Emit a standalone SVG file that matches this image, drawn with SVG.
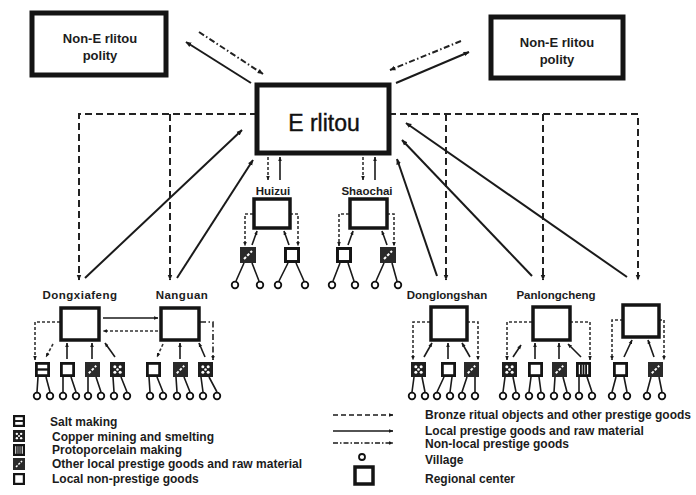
<svg xmlns="http://www.w3.org/2000/svg" width="696" height="495" viewBox="0 0 696 495">
<style>
.bg{fill:#fff}
.big{fill:#fff;stroke:#141414;stroke-width:5}
.rc{fill:#fff;stroke:#141414;stroke-width:3.5}
.t{font-family:"Liberation Sans",Arial,sans-serif;font-weight:bold;fill:#1c1c1c}
.lbl{font-size:11.5px;text-anchor:middle}
.pol{font-size:13px;text-anchor:middle}
.leg{font-size:12px}
.dash{fill:none;stroke:#222;stroke-width:2;stroke-dasharray:7 4}
.sol{fill:none;stroke:#1a1a1a;stroke-width:2}
.dd{fill:none;stroke:#222;stroke-width:2;stroke-dasharray:6 2.5 1.5 2.5}
.sdash{fill:none;stroke:#333;stroke-width:1.6;stroke-dasharray:3 2}
.ssol{fill:none;stroke:#1a1a1a;stroke-width:1.6}
.leg2{fill:none;stroke:#1a1a1a;stroke-width:1.5}
.vil{fill:#fff;stroke:#111;stroke-width:1.8}
</style>
<defs>
<marker id="ah" viewBox="0 0 10 10" refX="9" refY="5" markerUnits="userSpaceOnUse" markerWidth="6" markerHeight="6" orient="auto-start-reverse"><path d="M0,1 L10,5 L0,9 z" fill="#1a1a1a"/></marker>
<marker id="as" viewBox="0 0 10 10" refX="9" refY="5" markerUnits="userSpaceOnUse" markerWidth="4.5" markerHeight="4.5" orient="auto-start-reverse"><path d="M0,1 L10,5 L0,9 z" fill="#1a1a1a"/></marker>
<symbol id="plain" viewBox="0 0 14 14"><rect x="1.3" y="1.3" width="11.4" height="11.4" fill="#fff" stroke="#141414" stroke-width="2.6"/></symbol>
<symbol id="salt" viewBox="0 0 14 14"><rect x="1.3" y="1.3" width="11.4" height="11.4" fill="#fff" stroke="#141414" stroke-width="2.6"/><line x1="1" y1="7" x2="13" y2="7" stroke="#141414" stroke-width="2.2"/></symbol>
<symbol id="copper" viewBox="0 0 14 14"><rect x="0" y="0" width="14" height="14" fill="#1e1e1e"/><g fill="#fff"><circle cx="4.5" cy="4.5" r="1.4"/><circle cx="9.5" cy="4.5" r="1.4"/><circle cx="7" cy="7" r="1.2"/><circle cx="4.5" cy="9.5" r="1.4"/><circle cx="9.5" cy="9.5" r="1.4"/></g></symbol>
<symbol id="proto" viewBox="0 0 14 14"><rect x="1.3" y="1.3" width="11.4" height="11.4" fill="#fff" stroke="#141414" stroke-width="2.6"/><g stroke="#141414" stroke-width="1.7"><line x1="4.6" y1="2" x2="4.6" y2="12"/><line x1="7" y1="2" x2="7" y2="12"/><line x1="9.4" y1="2" x2="9.4" y2="12"/></g></symbol>
<symbol id="other" viewBox="0 0 14 14"><rect x="0" y="0" width="14" height="14" fill="#2a2a2a"/><line x1="3.5" y1="10.5" x2="10.5" y2="3.5" stroke="#fff" stroke-width="1.8" stroke-dasharray="2.5 1.5"/></symbol>
</defs>
<rect class="bg" x="0" y="0" width="696" height="495"/>

<g id="connectors">
  <line class="dd" x1="199" y1="32" x2="263" y2="74" marker-end="url(#ah)"/>
  <line class="sol" x1="251" y1="83" x2="186" y2="42" marker-end="url(#ah)"/>
  <line class="dd" x1="461" y1="41" x2="390" y2="70" marker-end="url(#ah)"/>
  <line class="sol" x1="396" y1="83" x2="469" y2="52" marker-end="url(#ah)"/>
  <polyline class="dash" points="257,114 79,114 79,280" marker-end="url(#ah)"/>
  <line class="dash" x1="170" y1="114" x2="170" y2="280" marker-end="url(#ah)"/>
  <polyline class="dash" points="389,114 638,114 638,280" marker-end="url(#ah)"/>
  <line class="dash" x1="446" y1="114" x2="446" y2="280" marker-end="url(#ah)"/>
  <line class="dash" x1="543" y1="114" x2="543" y2="280" marker-end="url(#ah)"/>
  <line class="sol" x1="85" y1="278" x2="242" y2="130" marker-end="url(#ah)"/>
  <line class="sol" x1="177" y1="278" x2="253" y2="160" marker-end="url(#ah)"/>
  <line class="sol" x1="437" y1="276" x2="397" y2="159" marker-end="url(#ah)"/>
  <line class="sol" x1="532" y1="276" x2="402" y2="140" marker-end="url(#ah)"/>
  <line class="sol" x1="627" y1="277" x2="406" y2="123" marker-end="url(#ah)"/>
  <line class="sdash" x1="268" y1="157" x2="268" y2="180" marker-end="url(#as)"/>
  <line class="ssol" x1="280" y1="180" x2="280" y2="157" marker-end="url(#as)"/>
  <line class="sdash" x1="363" y1="157" x2="363" y2="180" marker-end="url(#as)"/>
  <line class="ssol" x1="375" y1="180" x2="375" y2="157" marker-end="url(#as)"/>
  <polyline class="sdash" points="253,214 245,214 245,246" marker-end="url(#as)"/>
  <line class="ssol" x1="252" y1="245" x2="257" y2="231" marker-end="url(#as)"/>
  <line class="ssol" x1="289" y1="245" x2="284" y2="231" marker-end="url(#as)"/>
  <polyline class="sdash" points="290,214 298,214 298,246" marker-end="url(#as)"/>
  <polyline class="sdash" points="349,214 339,214 339,246" marker-end="url(#as)"/>
  <line class="ssol" x1="348" y1="245" x2="353" y2="231" marker-end="url(#as)"/>
  <line class="ssol" x1="387" y1="245" x2="382" y2="231" marker-end="url(#as)"/>
  <polyline class="sdash" points="387,214 394,214 394,246" marker-end="url(#as)"/>
  <line class="ssol" x1="103" y1="318" x2="158" y2="318" marker-end="url(#as)"/>
  <line class="sdash" x1="158" y1="331" x2="103" y2="331" marker-end="url(#as)"/>
  <polyline class="sdash" points="60,322 35,322 35,360" marker-end="url(#as)"/>
  <line class="sdash" x1="53" y1="344" x2="46" y2="357" marker-end="url(#as)"/>
  <line class="ssol" x1="67" y1="359" x2="67" y2="343" marker-end="url(#as)"/>
  <line class="ssol" x1="92" y1="359" x2="92" y2="343" marker-end="url(#as)"/>
  <line class="ssol" x1="115" y1="357" x2="105" y2="343" marker-end="url(#as)"/>
  <line class="sdash" x1="163" y1="344" x2="157" y2="357" marker-end="url(#as)"/>
  <line class="ssol" x1="180" y1="359" x2="180" y2="343" marker-end="url(#as)"/>
  <line class="ssol" x1="205" y1="357" x2="199" y2="343" marker-end="url(#as)"/>
  <polyline class="dd" style="stroke-width:1.6" points="200,322 213,322 213,360" marker-end="url(#as)"/>
  <polyline class="sdash" points="430,322 413,322 413,360" marker-end="url(#as)"/>
  <line class="ssol" x1="424" y1="357" x2="432" y2="343" marker-end="url(#as)"/>
  <line class="ssol" x1="448" y1="359" x2="448" y2="343" marker-end="url(#as)"/>
  <line class="ssol" x1="470" y1="357" x2="462" y2="343" marker-end="url(#as)"/>
  <polyline class="sdash" points="467,322 478,322 478,360" marker-end="url(#as)"/>
  <polyline class="sdash" points="532,322 507,322 507,360" marker-end="url(#as)"/>
  <line class="ssol" x1="513" y1="357" x2="521" y2="345" marker-end="url(#as)"/>
  <line class="ssol" x1="535" y1="359" x2="535" y2="343" marker-end="url(#as)"/>
  <line class="ssol" x1="559" y1="359" x2="559" y2="343" marker-end="url(#as)"/>
  <line class="ssol" x1="581" y1="357" x2="568" y2="344" marker-end="url(#as)"/>
  <polyline class="sdash" points="570,322 590,322 590,360" marker-end="url(#as)"/>
  <polyline class="sdash" points="623,320 612,320 612,360" marker-end="url(#as)"/>
  <line class="ssol" x1="624" y1="357" x2="632" y2="340" marker-end="url(#as)"/>
  <line class="ssol" x1="654" y1="357" x2="648" y2="340" marker-end="url(#as)"/>
  <polyline class="sdash" points="659,320 664,320 664,360" marker-end="url(#as)"/>
</g>

<g id="polity-left">
  <rect class="big" x="32" y="13" width="134" height="62"/>
  <text class="t pol" x="100" y="43">Non-E rlitou</text>
  <text class="t pol" x="100" y="60">polity</text>
</g>
<g id="polity-right">
  <rect class="big" x="491" y="17" width="132" height="61"/>
  <text class="t pol" x="557" y="47">Non-E rlitou</text>
  <text class="t pol" x="557" y="64">polity</text>
</g>
<g id="erlitou">
  <rect class="big" x="257" y="85" width="132" height="68"/>
  <text x="324" y="131" font-family="Liberation Sans, Arial, sans-serif" font-size="23" text-anchor="middle" fill="#111" stroke="#111" stroke-width="0.4">E rlitou</text>
</g>

<g id="huizui">
  <text class="t lbl" x="273" y="195">Huizui</text>
  <rect class="rc" x="254" y="199" width="36" height="29"/>
  <use href="#other" x="240" y="247" width="16" height="16"/>
  <use href="#plain" x="284" y="247" width="16" height="16"/>
  <g class="ssol"><path d="M244,263 L236,281 M252,263 L259,281 M288,263 L279,281 M296,263 L304,281"/></g>
  <g class="vil"><circle cx="235" cy="285" r="3.3"/><circle cx="260" cy="285" r="3.3"/><circle cx="278" cy="285" r="3.3"/><circle cx="305" cy="285" r="3.3"/></g>
</g>
<g id="shaochai">
  <text class="t lbl" x="367" y="195">Shaochai</text>
  <rect class="rc" x="350" y="199" width="37" height="29"/>
  <use href="#plain" x="336" y="247" width="16" height="16"/>
  <use href="#other" x="380" y="247" width="16" height="16"/>
  <g class="ssol"><path d="M340,263 L333,281 M348,263 L354,281 M384,263 L376,281 M392,263 L397,281"/></g>
  <g class="vil"><circle cx="332" cy="285" r="3.3"/><circle cx="355" cy="285" r="3.3"/><circle cx="375" cy="285" r="3.3"/><circle cx="398" cy="285" r="3.3"/></g>
</g>

<g id="dongxiafeng">
  <text class="t lbl" x="80" y="299" font-size="12" letter-spacing="0.5">Dongxiafeng</text>
  <rect class="rc" x="61" y="308" width="38" height="32"/>
  <use href="#salt" x="35" y="362" width="15" height="15"/>
  <use href="#plain" x="60" y="362" width="15" height="15"/>
  <use href="#other" x="85" y="362" width="15" height="15"/>
  <use href="#copper" x="110" y="362" width="15" height="15"/>
  <g class="ssol"><path d="M38,377 L37,392 M46,377 L50,392 M63,377 L63,392 M71,377 L76,392 M88,377 L88,392 M96,377 L101,392 M113,377 L114,392 M121,377 L127,392"/></g>
  <g class="vil"><circle cx="37" cy="396" r="3.3"/><circle cx="50" cy="396" r="3.3"/><circle cx="63" cy="396" r="3.3"/><circle cx="76" cy="396" r="3.3"/><circle cx="88" cy="396" r="3.3"/><circle cx="101" cy="396" r="3.3"/><circle cx="114" cy="396" r="3.3"/><circle cx="127" cy="396" r="3.3"/></g>
</g>
<g id="nanguan">
  <text class="t lbl" x="182" y="299" font-size="12" letter-spacing="0.5">Nanguan</text>
  <rect class="rc" x="161" y="308" width="38" height="32"/>
  <use href="#plain" x="146" y="362" width="15" height="15"/>
  <use href="#other" x="173" y="362" width="15" height="15"/>
  <use href="#copper" x="198" y="362" width="15" height="15"/>
  <g class="ssol"><path d="M149,377 L150,392 M157,377 L163,392 M176,377 L177,392 M184,377 L190,392 M201,377 L203,392 M209,377 L217,392"/></g>
  <g class="vil"><circle cx="150" cy="396" r="3.3"/><circle cx="163" cy="396" r="3.3"/><circle cx="177" cy="396" r="3.3"/><circle cx="190" cy="396" r="3.3"/><circle cx="203" cy="396" r="3.3"/><circle cx="217" cy="396" r="3.3"/></g>
</g>
<g id="donglongshan">
  <text class="t lbl" x="447" y="299">Donglongshan</text>
  <rect class="rc" x="431" y="307" width="36" height="33"/>
  <use href="#copper" x="411" y="362" width="15" height="15"/>
  <use href="#plain" x="441" y="362" width="15" height="15"/>
  <use href="#other" x="464" y="362" width="15" height="15"/>
  <g class="ssol"><path d="M414,377 L412,392 M422,377 L425,392 M444,377 L437,392 M452,377 L450,392 M467,377 L462,392 M475,377 L475,392"/></g>
  <g class="vil"><circle cx="412" cy="396" r="3.3"/><circle cx="425" cy="396" r="3.3"/><circle cx="437" cy="396" r="3.3"/><circle cx="450" cy="396" r="3.3"/><circle cx="462" cy="396" r="3.3"/><circle cx="475" cy="396" r="3.3"/></g>
</g>
<g id="panlongcheng">
  <text class="t lbl" x="556" y="299">Panlongcheng</text>
  <rect class="rc" x="533" y="307" width="37" height="33"/>
  <use href="#copper" x="502" y="362" width="15" height="15"/>
  <use href="#plain" x="528" y="362" width="15" height="15"/>
  <use href="#other" x="552" y="362" width="15" height="15"/>
  <use href="#proto" x="576" y="362" width="15" height="15"/>
  <g class="ssol"><path d="M505,377 L503,392 M513,377 L516,392 M531,377 L529,392 M539,377 L541,392 M555,377 L554,392 M563,377 L567,392 M579,377 L579,392 M587,377 L592,392"/></g>
  <g class="vil"><circle cx="503" cy="396" r="3.3"/><circle cx="516" cy="396" r="3.3"/><circle cx="529" cy="396" r="3.3"/><circle cx="541" cy="396" r="3.3"/><circle cx="554" cy="396" r="3.3"/><circle cx="567" cy="396" r="3.3"/><circle cx="579" cy="396" r="3.3"/><circle cx="592" cy="396" r="3.3"/></g>
</g>
<g id="center-east">
  <rect class="rc" x="623" y="305" width="36" height="32"/>
  <use href="#plain" x="613" y="362" width="15" height="15"/>
  <use href="#other" x="648" y="362" width="15" height="15"/>
  <g class="ssol"><path d="M616,377 L612,392 M624,377 L627,392 M651,377 L647,392 M659,377 L662,392"/></g>
  <g class="vil"><circle cx="612" cy="396" r="3.3"/><circle cx="627" cy="396" r="3.3"/><circle cx="647" cy="396" r="3.3"/><circle cx="662" cy="396" r="3.3"/></g>
</g>

<g id="legend">
  <use href="#salt" x="13" y="415" width="12" height="12"/>
  <use href="#copper" x="13" y="430" width="12" height="12"/>
  <use href="#proto" x="13" y="444" width="12" height="12"/>
  <use href="#other" x="13" y="458" width="12" height="12"/>
  <use href="#plain" x="13" y="473" width="12" height="12"/>
  <text class="t leg" x="50" y="426">Salt making</text>
  <text class="t leg" x="52" y="441">Copper mining and smelting</text>
  <text class="t leg" x="52" y="454">Protoporcelain making</text>
  <text class="t leg" x="52" y="468">Other local prestige goods and raw material</text>
  <text class="t leg" x="52" y="483">Local non-prestige goods</text>
  <line class="leg2" x1="333" y1="415" x2="393" y2="415" stroke-dasharray="5 3" marker-end="url(#as)"/>
  <line class="leg2" x1="333" y1="431" x2="393" y2="431" marker-end="url(#as)"/>
  <line class="leg2" x1="333" y1="443" x2="393" y2="443" stroke-dasharray="5 2 1.5 2" marker-end="url(#as)"/>
  <circle class="vil" cx="362" cy="457" r="3"/>
  <rect class="rc" x="355" y="467" width="18" height="17"/>
  <text class="t leg" x="425" y="419">Bronze ritual objects and other prestige goods</text>
  <text class="t leg" x="425" y="435">Local prestige goods and raw material</text>
  <text class="t leg" x="425" y="448">Non-local prestige goods</text>
  <text class="t leg" x="425" y="464">Village</text>
  <text class="t leg" x="425" y="483">Regional center</text>
</g>
</svg>
